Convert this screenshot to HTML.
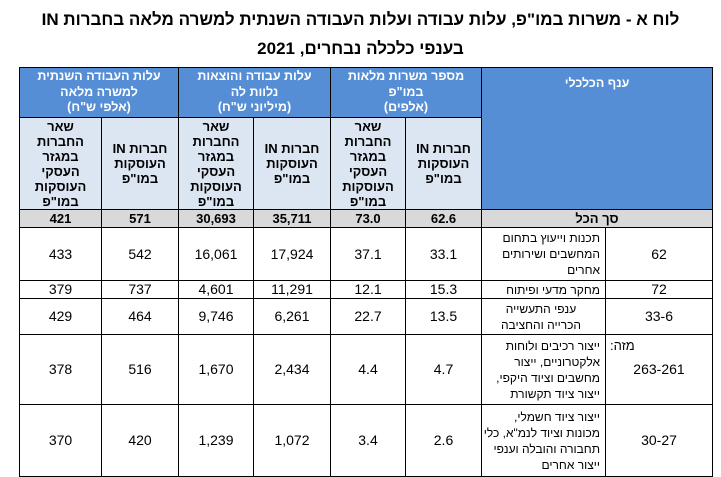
<!DOCTYPE html>
<html><head><meta charset="utf-8">
<style>
body{margin:0;width:721px;height:465px;overflow:hidden;background:#fff;font-family:"Liberation Sans Narrow","Liberation Sans","Noto Sans CJK SC",sans-serif;}
.t1{position:absolute;left:0;width:721px;text-align:center;font-weight:bold;font-size:17px;font-family:"Liberation Sans",sans-serif;direction:rtl;}
table{position:absolute;left:19px;top:67px;border-collapse:collapse;direction:rtl;table-layout:fixed;}
td{border:1px solid #000;text-align:center;vertical-align:middle;padding:0;font-size:14px;line-height:17px;}
.hd{background:#558ed5;color:#fff;font-weight:bold;font-size:12.5px;line-height:15.5px;}
.sh{background:#dce6f2;font-weight:bold;font-size:13px;line-height:15px;}
.tot td{background:#d9d9d9;font-weight:bold;font-size:13px;}
.nm{text-align:right;padding-right:5px;font-size:12px;line-height:16px;}
</style></head><body>
<div class="t1" style="top:10px">לוח א - משרות במו"פ, עלות עבודה ועלות העבודה השנתית למשרה מלאה בחברות IN</div>
<div class="t1" style="top:39px">בענפי כלכלה נבחרים, 2021</div>
<table>
<colgroup><col style="width:107px"><col style="width:124px"><col style="width:76px"><col style="width:75px"><col style="width:77px"><col style="width:75px"><col style="width:77px"><col style="width:82px"></colgroup>
<tr style="height:50px">
<td class="hd" colspan="2" rowspan="2" style="vertical-align:top;padding-top:8px">ענף הכלכלי</td>
<td class="hd" colspan="2">מספר משרות מלאות<br>במו"פ<br>(אלפים)</td>
<td class="hd" colspan="2">עלות עבודה והוצאות<br>נלוות לה<br>(מיליוני ש"ח)</td>
<td class="hd" colspan="2">עלות העבודה השנתית<br>למשרה מלאה<br>(אלפי ש"ח)</td>
</tr>
<tr style="height:92px">
<td class="sh">חברות IN<br>העוסקות<br>במו"פ</td>
<td class="sh">שאר<br>החברות<br>במגזר<br>העסקי<br>העוסקות<br>במו"פ</td>
<td class="sh">חברות IN<br>העוסקות<br>במו"פ</td>
<td class="sh">שאר<br>החברות<br>במגזר<br>העסקי<br>העוסקות<br>במו"פ</td>
<td class="sh">חברות IN<br>העוסקות<br>במו"פ</td>
<td class="sh">שאר<br>החברות<br>במגזר<br>העסקי<br>העוסקות<br>במו"פ</td>
</tr>
<tr class="tot" style="height:18px">
<td colspan="2">סך הכל</td><td>62.6</td><td>73.0</td><td>35,711</td><td>30,693</td><td>571</td><td>421</td></tr>
<tr style="height:53px">
<td>62</td><td class="nm">תכנות וייעוץ בתחום המחשבים ושירותים אחרים</td><td>33.1</td><td>37.1</td><td>17,924</td><td>16,061</td><td>542</td><td>433</td></tr>
<tr style="height:18px">
<td>72</td><td class="nm">מחקר מדעי ופיתוח</td><td>15.3</td><td>12.1</td><td>11,291</td><td>4,601</td><td>737</td><td>379</td></tr>
<tr style="height:36px">
<td>33-6</td><td class="nm" style="text-align:center">ענפי התעשייה<br>הכרייה והחציבה</td><td>13.5</td><td>22.7</td><td>6,261</td><td>9,746</td><td>464</td><td>429</td></tr>
<tr style="height:70px">
<td style="position:relative"><span style="position:absolute;left:4px;top:2px;font-size:13px">מזה:</span>263-261</td><td class="nm">ייצור רכיבים ולוחות אלקטרוניים, ייצור מחשבים וציוד היקפי, ייצור ציוד תקשורת</td><td>4.7</td><td>4.4</td><td>2,434</td><td>1,670</td><td>516</td><td>378</td></tr>
<tr style="height:72px">
<td>30-27</td><td class="nm">ייצור ציוד חשמלי, מכונות וציוד לנמ"א, כלי תחבורה והובלה וענפי ייצור אחרים</td><td>2.6</td><td>3.4</td><td>1,072</td><td>1,239</td><td>420</td><td>370</td></tr>
</table>
</body></html>
